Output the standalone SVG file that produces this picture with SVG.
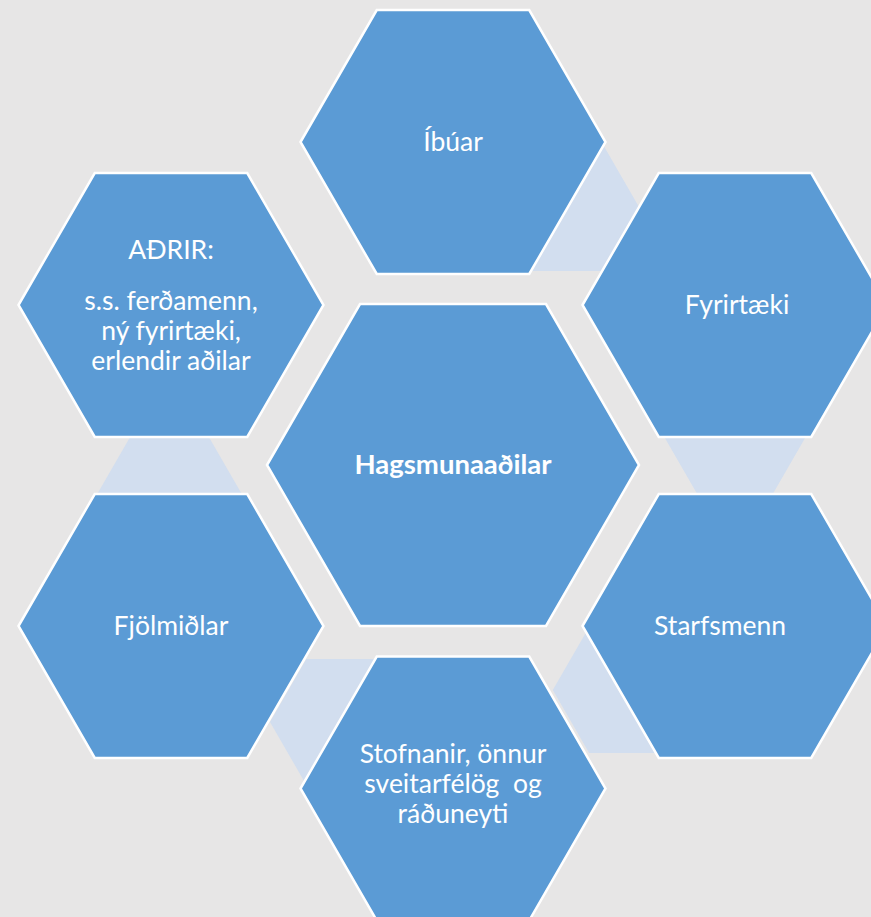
<svg xmlns="http://www.w3.org/2000/svg" width="871" height="917" viewBox="0 0 871 917">
  <defs>
    <polygon id="hexOuter" points="-152.5,0 -76.25,-132 76.25,-132 152.5,0 76.25,132 -76.25,132"/>
    <polygon id="hexCenter" points="-186,0 -93,-161 93,-161 186,0 93,161 -93,161"/>
    <polygon id="hexSmall" points="-72.7,0 -36.35,-63 36.35,-63 72.7,0 36.35,63 -36.35,63"/>
  </defs>
  <style>
    .bg { fill: #e7e6e6; }
    .node { fill: #5b9bd5; stroke: #ffffff; stroke-width: 2.5; }
    .link { fill: #d2deef; stroke: none; }
    .lbl { fill: #ffffff; font-family: Lato, "Open Sans", "Liberation Sans", sans-serif; font-size: 26.5px; text-anchor: middle; white-space: pre; }
    .bold { font-weight: bold; font-size: 27.5px; }
  </style>
  <rect class="bg" x="0" y="0" width="871" height="917"/>
  <g id="connectors">
    <use href="#hexSmall" class="link" x="566.9" y="208"/>
    <use href="#hexSmall" class="link" x="735" y="433.5"/>
    <use href="#hexSmall" class="link" x="625.5" y="690"/>
    <use href="#hexSmall" class="link" x="342.7" y="722"/>
    <use href="#hexSmall" class="link" x="169.5" y="494.7"/>
  </g>
  <g id="node-ibuar">
    <use href="#hexOuter" class="node" x="453" y="142"/>
    <text class="lbl" x="453" y="151">Íbúar</text>
  </g>
  <g id="node-fyrirtaeki">
    <use href="#hexOuter" class="node" x="735" y="305"/>
    <text class="lbl" x="737" y="314">Fyrirtæki</text>
  </g>
  <g id="node-starfsmenn">
    <use href="#hexOuter" class="node" x="735" y="626"/>
    <text class="lbl" x="720" y="635">Starfsmenn</text>
  </g>
  <g id="node-stofnanir">
    <use href="#hexOuter" class="node" x="453" y="788.5"/>
    <text class="lbl" x="453" y="763">Stofnanir, önnur</text>
    <text class="lbl" x="453" y="793">sveitarfélög  og</text>
    <text class="lbl" x="453" y="823">ráðuneyti</text>
  </g>
  <g id="node-fjolmidlar">
    <use href="#hexOuter" class="node" x="171" y="626"/>
    <text class="lbl" x="171" y="635">Fjölmiðlar</text>
  </g>
  <g id="node-adrir">
    <use href="#hexOuter" class="node" x="171" y="305"/>
    <text class="lbl" x="171" y="259">AÐRIR:</text>
    <text class="lbl" x="171" y="310">s.s. ferðamenn,</text>
    <text class="lbl" x="171" y="340">ný fyrirtæki,</text>
    <text class="lbl" x="171" y="370">erlendir aðilar</text>
  </g>
  <g id="node-center">
    <use href="#hexCenter" class="node" x="453" y="465"/>
    <text class="lbl bold" x="453" y="474">Hagsmunaaðilar</text>
  </g>
</svg>
